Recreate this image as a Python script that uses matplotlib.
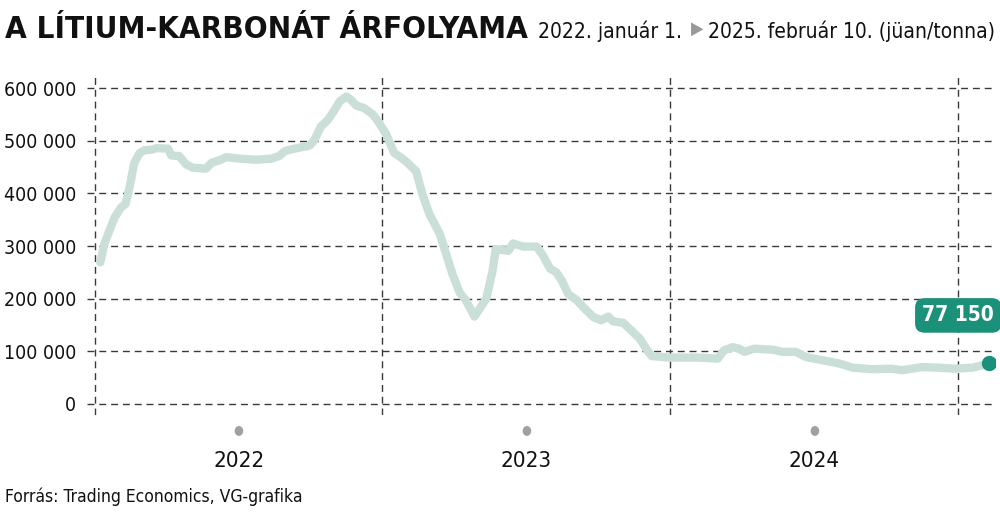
import numpy as np
import pandas as pd
import matplotlib
matplotlib.use('Agg')
import matplotlib.pyplot as plt
import matplotlib.dates as mdates

# lithium carbonate price, CNY/tonne
dates = [
    '2022-01-08', '2022-01-13', '2022-01-17', '2022-01-26', '2022-02-03', '2022-02-09',
    '2022-02-14', '2022-02-20', '2022-02-27', '2022-03-05', '2022-03-14', '2022-03-20',
    '2022-04-04', '2022-04-08', '2022-04-18', '2022-04-27', '2022-05-05', '2022-05-22',
    '2022-05-29', '2022-06-10', '2022-06-17', '2022-07-04', '2022-07-25', '2022-08-13',
    '2022-08-23', '2022-08-30', '2022-09-05', '2022-10-01', '2022-10-07', '2022-10-15',
    '2022-10-24', '2022-10-30', '2022-11-08', '2022-11-16', '2022-11-22', '2022-11-29',
    '2022-12-09', '2022-12-20', '2022-12-28', '2023-01-06', '2023-01-16', '2023-01-25',
    '2023-02-02', '2023-02-13', '2023-02-21', '2023-03-02', '2023-03-15', '2023-03-23',
    '2023-03-31', '2023-04-09', '2023-04-17', '2023-04-28', '2023-05-13', '2023-05-21',
    '2023-05-25', '2023-06-10', '2023-06-16', '2023-06-29', '2023-07-16', '2023-07-24',
    '2023-08-02', '2023-08-10', '2023-08-17', '2023-08-25', '2023-09-05', '2023-09-15',
    '2023-09-26', '2023-10-06', '2023-10-15', '2023-10-21', '2023-11-03', '2023-11-15',
    '2023-11-24', '2023-12-02', '2023-12-09', '2024-01-01', '2024-01-05', '2024-02-08',
    '2024-03-02', '2024-03-10', '2024-03-21', '2024-03-29', '2024-04-05', '2024-04-17',
    '2024-05-11', '2024-05-23', '2024-06-09', '2024-06-22', '2024-07-13', '2024-08-03',
    '2024-08-20', '2024-09-14', '2024-10-09', '2024-10-22', '2024-11-16', '2024-12-07',
    '2024-12-28', '2025-01-20', '2025-02-10',
]
prices = [
    269000, 304000, 320000, 354000, 373000, 380000,
    411000, 458000, 477000, 482000, 483000, 486000,
    485000, 472000, 471000, 455000, 449000, 447000,
    458000, 464000, 469000, 466000, 464000, 466000,
    471000, 480000, 483000, 491000, 502000, 527000,
    540000, 553000, 575000, 584000, 578000, 567000,
    562000, 550000, 534000, 512000, 477000, 468000,
    458000, 442000, 398000, 360000, 323000, 285000,
    247000, 212000, 197000, 166000, 200000, 253000,
    294000, 291000, 305000, 299000, 299000, 282000,
    257000, 250000, 234000, 209000, 197000, 181000,
    165000, 159000, 166000, 157000, 154000, 137000,
    124000, 105000, 91000, 88000, 88000, 88000,
    86000, 102000, 108000, 105000, 99000, 105000,
    103000, 99000, 99000, 89000, 83000, 77000,
    69000, 66000, 67000, 64000, 70000, 69000,
    67000, 69000, 77150,
]

yticks = [0, 100000, 200000, 300000, 400000, 500000, 600000]
year_labels = ['2022', '2023', '2024']
year_bounds = ['2022-01-01', '2023-01-01', '2024-01-01', '2025-01-01']

title = 'A LÍTIUM-KARBONÁT ÁRFOLYAMA'
sub_start = '2022. január 1.'
sub_end = '2025. február 10. (jüan/tonna)'
source = 'Forrás: Trading Economics, VG-grafika'

LINE_C = '#cadfd8'
TEAL = '#1b917a'
GRID_C = '#3a3a3a'
TXT_C = '#111111'

plt.rcParams['font.family'] = ['DejaVu Sans']
plt.rcParams['font.stretch'] = 'condensed'

H = 522.0


def fy(py):
    # pixel row from the top -> figure fraction
    return 1 - py / H


dates = pd.to_datetime(dates)
fig = plt.figure(figsize=(10, 5.22), dpi=100)
ax = fig.add_axes([0.087, fy(415), 0.908, (415 - 75) / H])

ax.set_xlim(pd.Timestamp('2021-12-22'), pd.Timestamp('2025-02-17'))
ax.set_ylim(-21000, 625000)

for y in yticks:
    ax.axhline(y, color=GRID_C, lw=1.0, ls=(0, (5, 3.5)), zorder=1)
for d in year_bounds:
    ax.axvline(pd.Timestamp(d), color=GRID_C, lw=1.0, ls=(0, (5, 3.5)), zorder=1)

ax.plot(dates, prices, color=LINE_C, lw=6, solid_capstyle='round',
        solid_joinstyle='round', zorder=3)
ax.plot(dates[-1], prices[-1], 'o', ms=10, color=TEAL, zorder=4)

# value label box
lbl = f'{prices[-1]:,}'.replace(',', ' ')
ax.annotate(lbl, xy=(dates[-1], prices[-1]), xytext=(-22.5, 34.5), textcoords='offset points',
            ha='center', va='center', fontsize=15, fontweight='bold', color='white',
            bbox=dict(boxstyle='round,pad=0.35,rounding_size=0.45', fc=TEAL, ec='none'),
            zorder=5)

ax.set_yticks(yticks)
ax.set_yticklabels([f'{v:,}'.replace(',', ' ') for v in yticks], fontsize=14, color=TXT_C)
ax.tick_params(axis='y', length=0, pad=8)
ax.set_xticks([])
for s in ax.spines.values():
    s.set_visible(False)

# year labels with grey dots under the middle of each year
for i, yr in enumerate(year_labels):
    a = pd.Timestamp(year_bounds[i])
    b = pd.Timestamp(year_bounds[i + 1])
    mid = a + (b - a) / 2
    xf = ax.transData.transform((mdates.date2num(mid), 0))[0] / fig.bbox.width
    fig.text(xf, fy(430), '\u25cf', ha='center', va='center', fontsize=9, color='#a0a0a0')
    fig.text(xf, fy(467), yr, ha='center', va='baseline', fontsize=16, color=TXT_C)

fig.text(0.005, fy(38), title, ha='left', va='baseline', fontsize=22.5, fontweight='bold',
         color=TXT_C)
fig.text(0.538, fy(38), sub_start, ha='left', va='baseline', fontsize=15, color=TXT_C)
fig.text(0.697, fy(29), '\u25b6', ha='center', va='center', fontsize=13, color='#999999')
fig.text(0.995, fy(38), sub_end, ha='right', va='baseline', fontsize=15, color=TXT_C)

fig.text(0.005, fy(502), source, ha='left', va='baseline', fontsize=12.5, color=TXT_C)

fig.savefig('out.png', dpi=100)
